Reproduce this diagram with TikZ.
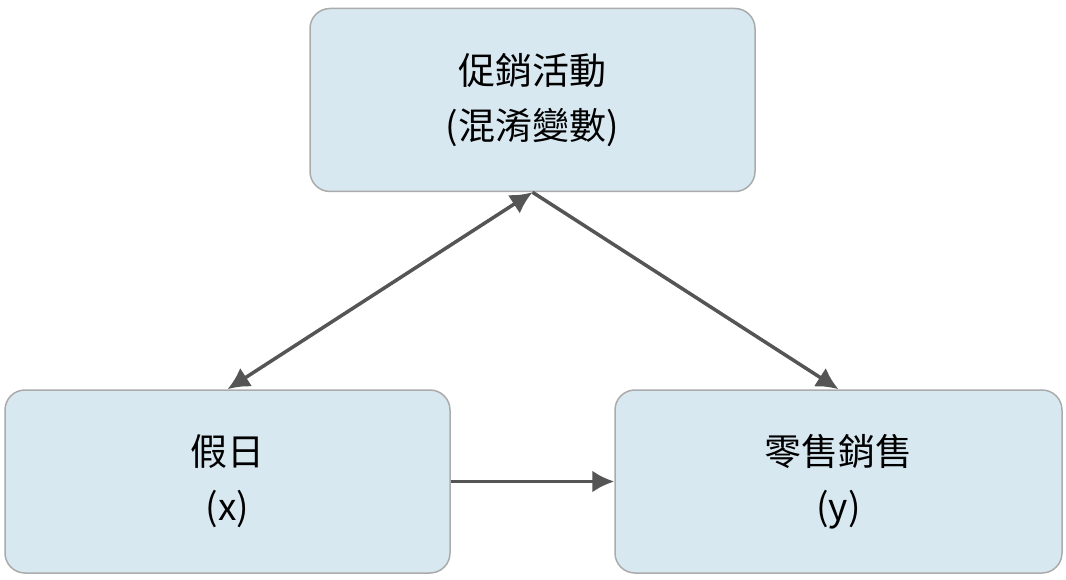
\documentclass[tikz,border=0pt]{standalone}
\usepackage{fontspec}
\setmainfont{Noto Sans CJK TC}
\usetikzlibrary{arrows.meta}
\definecolor{boxfill}{HTML}{D7E8F1}
\definecolor{boxline}{HTML}{ABABAB}
\definecolor{arr}{HTML}{555555}
\begin{document}
\begin{tikzpicture}[x=1pt,y=-1pt,
  box/.style={draw=boxline,line width=1.5pt,fill=boxfill,rounded corners=20pt,
    minimum width=445pt,minimum height=183pt,align=center,
    font=\fontsize{37}{55}\selectfont},
  con/.style={draw=arr,line width=3.5pt,-{Latex[length=22pt,width=22pt]}}]
\useasboundingbox (0,0) rectangle (1066,580);
\node[box] (top) at (532.5,100) {促銷活動\\(混淆變數)};
\node[box] (left) at (227.5,481.5) {假日\\(x)};
\node[box,minimum width=447pt] (right) at (838.5,481.5) {零售銷售\\(y)};
\draw[con,{Latex[length=22pt,width=22pt]}-{Latex[length=22pt,width=22pt]}] (top.south) -- (left.north);
\draw[con] (top.south) -- (right.north);
\draw[con] (left.east) -- (right.west);
\end{tikzpicture}
\end{document}
